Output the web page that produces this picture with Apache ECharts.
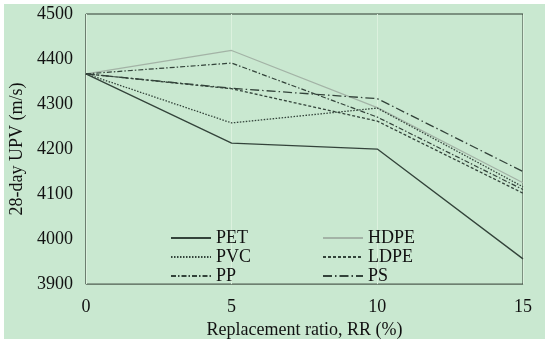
<!DOCTYPE html>
<html><head><meta charset="utf-8">
<script src="https://cdn.jsdelivr.net/npm/echarts@6/dist/echarts.min.js"></script>
<style>
html,body{margin:0;padding:0;background:#fff;}
#wrap{position:relative;width:550px;height:344px;background:#fff;}
#bg{position:absolute;left:4px;top:4px;width:541px;height:335px;background:#c9e8d0;}
#chart{position:absolute;left:0;top:0;width:550px;height:344px;}
</style></head>
<body>
<div id="wrap"><div id="bg"></div><div id="chart"></div></div>
<script>
const ratios = [0, 5, 10, 15];
const PET  = [4367, 4213, 4200, 3956];
const HDPE = [4367, 4419, 4292, 4125];
const PVC  = [4367, 4258, 4291, 4116];
const LDPE = [4367, 4334, 4262, 4102];
const PP   = [4367, 4391, 4271, 4110];
const PS   = [4367, 4335, 4312, 4150];
const yTicks = [3900, 4000, 4100, 4200, 4300, 4400, 4500];

const font = 'Liberation Serif, Times New Roman, serif';
const dark = '#33433a';
function mk(name, vals, color, type, width) {
  return {
    name, type: 'line', symbol: 'none', data: ratios.map((x, i) => [x, vals[i]]),
    lineStyle: { color, type, width }, itemStyle: { color }, z: 3
  };
}
const legendCommon = {
  orient: 'vertical', top: 229, itemWidth: 40, itemHeight: 10, itemGap: 1, padding: 0,
  itemStyle: { color: 'transparent', borderColor: 'transparent', borderWidth: 0, opacity: 0 },
  textStyle: { fontFamily: font, fontSize: 18, color: '#111' }
};
const chart = echarts.init(document.getElementById('chart'));
chart.setOption({
  animation: false,
  grid: { left: 85, right: 27, top: 14, bottom: 57, show: true, borderColor: '#2f3a30', borderWidth: 1, backgroundColor: 'transparent' },
  xAxis: {
    type: 'value', min: 0, max: 15, interval: 5,
    name: 'Replacement ratio, RR (%)', nameLocation: 'middle', nameGap: 27,
    nameTextStyle: { fontFamily: font, fontSize: 18, color: '#111' },
    axisLine: { show: false }, axisTick: { show: false },
    axisLabel: { fontFamily: font, fontSize: 18, color: '#111', margin: 14 },
    splitLine: { show: true, lineStyle: { color: '#dcf1de', width: 1 } }
  },
  yAxis: {
    type: 'value', min: 3900, max: 4500, interval: 100,
    name: '28-day UPV (m/s)', nameLocation: 'middle', nameGap: 54,
    nameTextStyle: { fontFamily: font, fontSize: 18, color: '#111' },
    axisLine: { show: false }, axisTick: { show: false },
    axisLabel: { fontFamily: font, fontSize: 18, color: '#111', margin: 13,
      formatter: v => yTicks.includes(v) ? String(v) : '' },
    splitLine: { show: false }
  },
  legend: [
    Object.assign({ data: ['PET', 'PVC', 'PP'], left: 170 }, legendCommon),
    Object.assign({ data: ['HDPE', 'LDPE', 'PS'], left: 322 }, legendCommon)
  ],
  series: [
    mk('PET', PET, dark, 'solid', 1.3),
    mk('HDPE', HDPE, '#a3b3a6', 'solid', 1.2),
    mk('PVC', PVC, dark, [1.5, 1.5], 1.3),
    mk('LDPE', LDPE, dark, [3, 2], 1.3),
    mk('PP', PP, dark, [5, 2, 1.5, 2], 1.2),
    mk('PS', PS, dark, [9, 3, 1.5, 3], 1.3)
  ]
});
</script>
</body></html>
